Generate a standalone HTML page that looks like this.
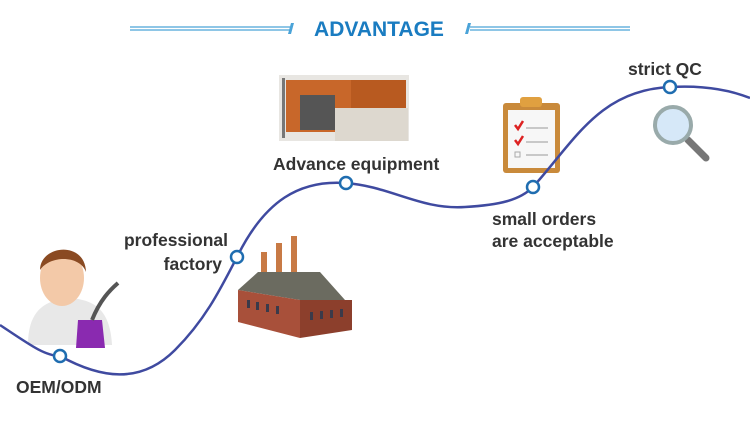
<!DOCTYPE html>
<html><head><style>
body{margin:0;background:#fff;}
svg{display:block;font-family:"Liberation Sans",sans-serif;}
.l{font-size:17.5px;fill:#333;font-weight:bold;}
</style></head><body>
<svg width="750" height="428" viewBox="0 0 750 428">
<g stroke="#4aa3d8" stroke-width="1.2">
<line x1="130" y1="27" x2="290" y2="27"/><line x1="130" y1="30" x2="290" y2="30"/>
<line x1="470" y1="27" x2="630" y2="27"/><line x1="470" y1="30" x2="630" y2="30"/>
</g>
<path d="M291,23 L294,23 L291,34 L288,34Z M468,23 L471,23 L468,34 L465,34Z" fill="#4aa3d8"/>
<text x="379" y="36" text-anchor="middle" font-size="21" font-weight="bold" fill="#1a7cc1">ADVANTAGE</text>

<rect x="279" y="75" width="130" height="66" fill="#e8e6e2"/>
<rect x="286" y="80" width="65" height="52" fill="#c8672a"/>
<rect x="351" y="80" width="55" height="28" fill="#b85a20"/>
<rect x="300" y="95" width="35" height="35" fill="#555"/>
<rect x="335" y="108" width="73" height="33" fill="#ddd8cf"/>
<rect x="282" y="78" width="3" height="60" fill="#777"/>

<rect x="503" y="103" width="57" height="70" rx="3" fill="#c98a3b"/>
<rect x="508" y="110" width="47" height="58" fill="#f7f7f7"/>
<rect x="520" y="97" width="22" height="10" rx="3" fill="#e0a040"/>
<path d="M515,125 l3,4 l5,-8 M515,140 l3,4 l5,-8" stroke="#d22" stroke-width="2.5" fill="none"/>
<rect x="515" y="152" width="5" height="5" fill="none" stroke="#aaa"/>
<g stroke="#999"><line x1="526" y1="128" x2="548" y2="128"/><line x1="526" y1="142" x2="548" y2="142"/><line x1="526" y1="155" x2="548" y2="155"/></g>

<line x1="688" y1="140" x2="706" y2="158" stroke="#777" stroke-width="7" stroke-linecap="round"/>
<circle cx="673" cy="125" r="18" fill="#d6e8f8" stroke="#9aa" stroke-width="4"/>

<rect x="261" y="252" width="6" height="40" fill="#c87a45"/>
<rect x="276" y="243" width="6" height="45" fill="#c87a45"/>
<rect x="291" y="236" width="6" height="45" fill="#c87a45"/>
<path d="M238,290 L258,272 L320,272 L345,300 L300,300 Z" fill="#6b6b60"/>
<path d="M238,290 L300,300 L300,338 L238,322Z" fill="#a8503a"/>
<path d="M300,300 L345,300 L352,300 L352,330 L300,338Z" fill="#8c3f2c"/>
<g fill="#3a3a4a"><rect x="247" y="300" width="3" height="8"/><rect x="256" y="302" width="3" height="8"/><rect x="266" y="304" width="3" height="8"/><rect x="276" y="306" width="3" height="8"/><rect x="310" y="312" width="3" height="8"/><rect x="320" y="311" width="3" height="8"/><rect x="330" y="310" width="3" height="8"/><rect x="340" y="309" width="3" height="8"/></g>

<path d="M28,345 C28,310 45,300 70,298 C95,300 110,310 112,345Z" fill="#e8e8e8"/>
<ellipse cx="62" cy="278" rx="22" ry="28" fill="#f3c9a8"/>
<path d="M40,270 C40,245 85,240 86,272 C80,255 50,255 40,270Z" fill="#8a4a22"/>
<path d="M78,320 L102,320 L105,348 L76,348Z" fill="#8a2ab0"/>
<path d="M92,320 C100,300 110,290 118,283" stroke="#555" stroke-width="4" fill="none"/>

<path d="M0,325 C30,345 45,356 60,356 C100,378 140,385 175,350 C205,320 220,290 237,257 C265,200 300,180 345,183 C390,186 420,210 465,207 C500,205 520,200 533,187 C575,140 600,90 670,87 C705,85 730,90 750,98" fill="none" stroke="#3f4aa0" stroke-width="2.5"/>
<g fill="#fff" stroke="#1f6db0" stroke-width="2.5">
<circle cx="60" cy="356" r="6"/><circle cx="237" cy="257" r="6"/><circle cx="346" cy="183" r="6"/><circle cx="533" cy="187" r="6"/><circle cx="670" cy="87" r="6"/>
</g>
<text class="l" x="16" y="393">OEM/ODM</text>
<text class="l" x="228" y="246" text-anchor="end">professional</text>
<text class="l" x="222" y="270" text-anchor="end">factory</text>
<text class="l" x="273" y="170">Advance equipment</text>
<text class="l" x="492" y="225">small orders</text>
<text class="l" x="492" y="247">are acceptable</text>
<text class="l" x="628" y="75">strict QC</text>
</svg>
</body></html>
